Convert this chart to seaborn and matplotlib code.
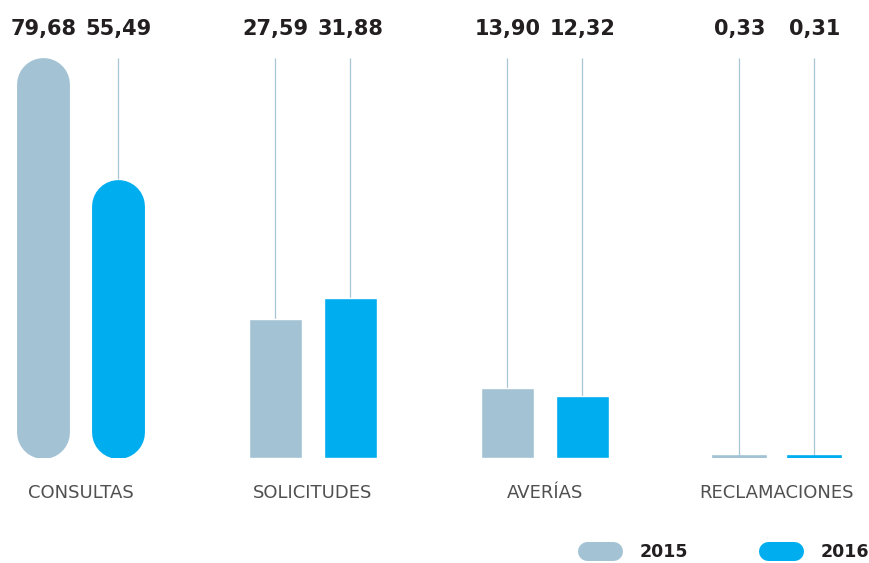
import matplotlib.pyplot as plt
from matplotlib.lines import Line2D
import pandas as pd
import seaborn as sns

# Data
categories = ['CONSULTAS', 'SOLICITUDES', 'AVERÍAS', 'RECLAMACIONES']
years = ['2015', '2016']
values_2015 = [79.68, 27.59, 13.90, 0.33]
values_2016 = [55.49, 31.88, 12.32, 0.31]

colors = {'2015': '#A3C3D4', '2016': '#00AEEF'}
line_col = '#A9C6D6'

df = pd.DataFrame({
    'Categoria': categories * 2,
    'Año': ['2015'] * 4 + ['2016'] * 4,
    'Valor': values_2015 + values_2016,
})

sns.set_style('white')
plt.rcParams['font.family'] = ['DejaVu Sans']

fig = plt.figure(figsize=(8.69, 5.63), dpi=100)
ax = fig.add_axes([0.0, 105 / 563, 1.0, 400 / 563])

sns.barplot(data=df, x='Categoria', y='Valor', hue='Año', order=categories,
            hue_order=years, palette=colors, width=0.646, gap=0.294,
            saturation=1, legend=False, ax=ax)

ymax = max(values_2015 + values_2016)
ax.set_xlim(-0.349, 3.397)
ax.set_ylim(0, ymax)

# pixel scale, used to turn the CONSULTAS bars into pills
p0 = ax.transData.transform((0, 0))
p1 = ax.transData.transform((1, 1))
px_x = p1[0] - p0[0]
px_y = p1[1] - p0[1]

for container, yr in zip(ax.containers, years):
    for i, bar in enumerate(container):
        xc = bar.get_x() + bar.get_width() / 2
        h = bar.get_height()
        ax.vlines(xc, h, ymax, color=line_col, lw=0.9, zorder=1)
        ax.annotate(f'{h:.2f}'.replace('.', ','), (xc, ymax),
                    xytext=(0, 21), textcoords='offset points',
                    ha='center', va='center', fontsize=15,
                    fontweight='bold', color='#231F20', annotation_clip=False)
        if i == 0:
            # CONSULTAS drawn as pills: a thick line with round caps
            bar.set_visible(False)
            w_px = bar.get_width() * px_x
            r = (w_px / 2) / px_y
            ax.plot([xc, xc], [r, h - r], color=colors[yr],
                    lw=w_px * 72 / fig.dpi, solid_capstyle='round', zorder=2)
        else:
            bar.set_zorder(2)
        if h < 1:
            bar.set_edgecolor(colors[yr])
            bar.set_linewidth(1.2)

ax.set_xlabel('')
ax.set_ylabel('')
ax.set_yticks([])
ax.tick_params(axis='x', length=0, pad=19, labelsize=13, labelcolor='#505050')
sns.despine(ax=ax, left=True, bottom=True)

handles = [Line2D([], [], color=colors[y], lw=13.7, solid_capstyle='round') for y in years]
leg = fig.legend(handles, years, loc='center left', bbox_to_anchor=(0.676, 0.0195),
                 ncol=2, frameon=False, borderpad=0, borderaxespad=0,
                 handlelength=1.5, handletextpad=1.53, columnspacing=4.6,
                 prop={'size': 12.5, 'weight': 'bold'})
for t in leg.get_texts():
    t.set_color('#231F20')

fig.savefig('out.png', dpi=100)
